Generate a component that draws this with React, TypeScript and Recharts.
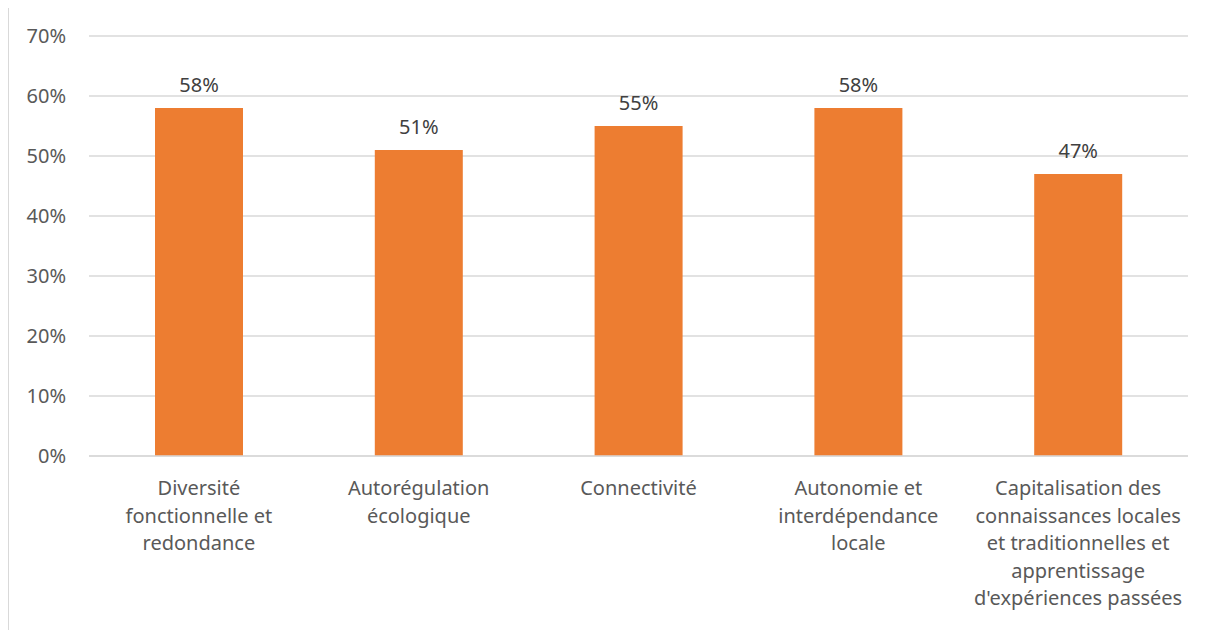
import { BarChart, Bar, XAxis, YAxis, CartesianGrid, LabelList } from "recharts";

const categories = [
  "Diversité fonctionnelle et redondance",
  "Autorégulation écologique",
  "Connectivité",
  "Autonomie et interdépendance locale",
  "Capitalisation des connaissances locales et traditionnelles et apprentissage d'expériences passées",
];

// how Excel wrapped each category label
const categoryLines = [
  ["Diversité", "fonctionnelle et", "redondance"],
  ["Autorégulation", "écologique"],
  ["Connectivité"],
  ["Autonomie et", "interdépendance", "locale"],
  ["Capitalisation des", "connaissances locales", "et traditionnelles et", "apprentissage", "d'expériences passées"],
];

const scores = [0.58, 0.51, 0.55, 0.58, 0.47];

const yTicks = [0, 0.1, 0.2, 0.3, 0.4, 0.5, 0.6, 0.7];

const data = categories.map((name, i) => ({ name, score: scores[i], idx: i }));

const FONT = "'Noto Sans', sans-serif";

const pct = (v: number) => `${Math.round(v * 100)}%`;

const CategoryTick = (props: any) => {
  const { x, y, index } = props;
  const lines = categoryLines[index] || [];
  return (
    <g transform={`translate(${x},${y})`}>
      {lines.map((line, i) => (
        <text
          key={i}
          x={0}
          y={24 + i * 27.5}
          dy="0.35em"
          textAnchor="middle"
          fill="#595959"
          fontSize={20}
          fontFamily={FONT}
        >
          {line}
        </text>
      ))}
    </g>
  );
};

const App = () => {
  return (
    <div
      style={{
        width: 1204,
        height: 640,
        marginTop: -1,
        borderLeft: "1px solid #d9d9d9",
        borderTop: "1px solid #d9d9d9",
        background: "#fff",
      }}
    >
      <BarChart
        width={1204}
        height={630}
        data={data}
        margin={{ top: 28, right: 25, left: 0, bottom: 10 }}
        barCategoryGap="30%"
      >
        <CartesianGrid vertical={false} stroke="#d9d9d9" strokeWidth={1.3} />
        <XAxis
          dataKey="name"
          interval={0}
          height={172}
          axisLine={{ stroke: "#d9d9d9", strokeWidth: 1.3 }}
          tickLine={false}
          tick={<CategoryTick />}
        />
        <YAxis
          width={80}
          domain={[0, 0.7]}
          ticks={yTicks}
          tickFormatter={pct}
          axisLine={false}
          tickLine={false}
          tickMargin={17}
          tick={{ fill: "#595959", fontSize: 20, fontFamily: FONT }}
        />
        <Bar dataKey="score" fill="#ED7D31" barSize={88} isAnimationActive={false}>
          <LabelList
            dataKey="score"
            position="top"
            offset={16}
            formatter={(v: any) => pct(Number(v))}
            fill="#404040"
            fontSize={20}
            fontFamily={FONT}
          />
        </Bar>
      </BarChart>
    </div>
  );
};

export default App;
